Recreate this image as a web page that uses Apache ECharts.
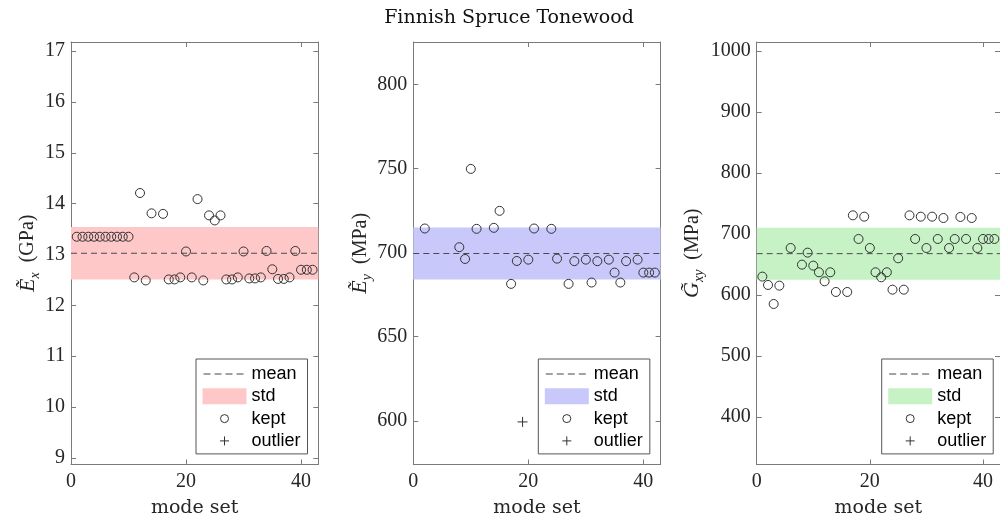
<!DOCTYPE html>
<html>
<head>
<meta charset="utf-8">
<script src="https://cdn.jsdelivr.net/npm/echarts@6/dist/echarts.min.js"></script>
<style>html,body{margin:0;padding:0;background:#fff;}#chart{width:1000px;height:532px;}</style>
</head>
<body>
<div id="chart"></div>
<script>
// ---------- data ----------
const chartTitle = 'Finnish Spruce Tonewood';
const xName = 'mode set';
const xTicks = [0, 20, 40];

// Panel 1: E_x (GPa)
const exKeptX = [1,2,3,4,5,6,7,8,9,10,11,12,13,14,16,17,18,19,20,21,22,23,24,25,26,27,28,29,30,31,32,33,34,35,36,37,38,39,40,41,42];
const exKeptY = [13.35,13.35,13.35,13.35,13.35,13.35,13.35,13.35,13.35,13.35,12.55,14.21,12.49,13.81,13.80,12.51,12.51,12.55,13.06,12.55,14.09,12.49,13.77,13.67,13.77,12.51,12.51,12.55,13.06,12.53,12.53,12.55,13.07,12.71,12.52,12.52,12.55,13.07,12.70,12.70,12.70];
const exOutX = [];
const exOutY = [];
const exMean = 13.025;
const exStd = 0.515;
const exTicks = [9,10,11,12,13,14,15,16,17];

// Panel 2: E_y (MPa)
const eyKeptX = [2,8,9,10,11,14,15,17,18,20,21,24,25,27,28,30,31,32,34,35,36,37,39,40,41,42];
const eyKeptY = [714.3,703.2,696.2,749.7,714.1,714.7,724.8,681.4,695.0,695.8,714.3,714.1,696.4,681.4,694.9,695.8,682.2,694.9,695.8,688.1,682.2,694.9,695.8,688.1,688.1,688.1];
const eyOutX = [19];
const eyOutY = [599.4];
const eyMean = 699.45;
const eyStd = 15.45;
const eyTicks = [600,650,700,750,800];

// Panel 3: G_xy (MPa)
const gKeptX = [1,2,3,4,6,8,9,10,11,12,13,14,16,17,18,19,20,21,22,23,24,25,26,27,28,29,30,31,32,33,34,35,36,37,38,39,40,41,42];
const gKeptY = [630.1,616.4,585.2,615.3,677,649.7,669.4,648.1,637.2,622.4,637.2,604.9,604.9,730.6,691.8,728.4,677,637.2,629,637.2,608.7,660.1,608.7,730.6,691.8,728.4,677,728.4,691.8,726.2,677,691.8,727.9,691.8,726.2,677,691.8,691.8,691.8];
const gOutX = [];
const gOutY = [];
const gMean = 667.75;
const gStd = 42.65;
const gTicks = [400,500,600,700,800,900,1000];

const legendNames = ['mean', 'std', 'kept', 'outlier'];

// ---------- layout / style ----------
const panels = [
  { keptX: exKeptX, keptY: exKeptY, outX: exOutX, outY: exOutY, mean: exMean, std: exStd, ticks: exTicks,
    yMin: 8.87, yMax: 17.18, left: 71, band: '#ffc8c8',
    yLabel: '{e|\u1EBC}{s|x}{u|  (GPa)}', nameGap: 29 },
  { keptX: eyKeptX, keptY: eyKeptY, outX: eyOutX, outY: eyOutY, mean: eyMean, std: eyStd, ticks: eyTicks,
    yMin: 574.1, yMax: 825.1, left: 413.3, band: '#c8c8fa',
    yLabel: '{e|\u1EBC}{s|y}{u|  (MPa)}', nameGap: 39 },
  { keptX: gKeptX, keptY: gKeptY, outX: gOutX, outY: gOutY, mean: gMean, std: gStd, ticks: gTicks,
    yMin: 322, yMax: 1014.8, left: 756.7, band: '#c6f2c6',
    yLabel: '{e|G\u0303}{s|xy}{u|  (MPa)}', nameGap: 50 }
];
const GRID_TOP = 42, GRID_H = 422.5, GRID_W = 247.3, XMAX = 43;
const axisColor = '#7a7a7a';
const textColor = '#262626';
const serif = '"Liberation Serif", "DejaVu Serif", serif';
const serif2 = '"DejaVu Serif", "Liberation Serif", serif';

const grid = [], xAxis = [], yAxis = [], series = [], legend = [];

panels.forEach((p, i) => {
  grid.push({ left: p.left, top: GRID_TOP, width: GRID_W, height: GRID_H, show: false, containLabel: false });
  const tickCommon = { show: true, inside: true, length: 5, lineStyle: { color: axisColor, width: 1 } };
  xAxis.push({
    type: 'value', gridIndex: i, position: 'bottom', min: 0, max: XMAX,
    axisLine: { show: true, onZero: false, lineStyle: { color: axisColor, width: 1 } },
    axisTick: Object.assign({ customValues: xTicks }, tickCommon),
    axisLabel: { show: true, customValues: xTicks, margin: 7, color: textColor, fontFamily: serif, fontSize: 20,
      formatter: v => String(v) },
    splitLine: { show: false },
    name: xName, nameLocation: 'middle', nameGap: 34, nameMoveOverlap: false,
    nameTextStyle: { color: textColor, fontFamily: serif2, fontSize: 19 }
  });
  xAxis.push({
    type: 'value', gridIndex: i, position: 'top', min: 0, max: XMAX,
    axisLine: { show: true, onZero: false, lineStyle: { color: axisColor, width: 1 } },
    axisTick: Object.assign({ customValues: xTicks }, tickCommon),
    axisLabel: { show: false }, splitLine: { show: false }
  });
  yAxis.push({
    type: 'value', gridIndex: i, position: 'left', min: p.yMin, max: p.yMax,
    axisLine: { show: true, onZero: false, lineStyle: { color: axisColor, width: 1 } },
    axisTick: Object.assign({ customValues: p.ticks }, tickCommon),
    axisLabel: { show: true, customValues: p.ticks, margin: 6, color: textColor, fontFamily: serif, fontSize: 20,
      formatter: v => String(v) },
    splitLine: { show: false },
    name: p.yLabel, nameLocation: 'middle', nameRotate: 90, nameGap: p.nameGap, nameMoveOverlap: false,
    nameTextStyle: {
      color: textColor, fontFamily: serif, fontSize: 20, align: 'center', verticalAlign: 'bottom',
      rich: {
        e: { fontFamily: serif, fontStyle: 'italic', fontSize: 22, color: textColor, lineHeight: 28, verticalAlign: 'middle' },
        s: { fontFamily: serif, fontStyle: 'italic', fontSize: 14, color: textColor, lineHeight: 28, verticalAlign: 'bottom' },
        u: { fontFamily: serif, fontSize: 20, color: textColor, lineHeight: 28, verticalAlign: 'middle' }
      }
    }
  });
  yAxis.push({
    type: 'value', gridIndex: i, position: 'right', min: p.yMin, max: p.yMax,
    axisLine: { show: true, onZero: false, lineStyle: { color: axisColor, width: 1 } },
    axisTick: Object.assign({ customValues: p.ticks }, tickCommon),
    axisLabel: { show: false }, splitLine: { show: false }
  });

  const xi = i * 2, yi = i * 2;
  series.push({
    name: 'std', type: 'line', xAxisIndex: xi, yAxisIndex: yi, data: [], silent: true,
    markArea: { silent: true, itemStyle: { color: p.band, opacity: 1 },
      data: [[{ yAxis: p.mean - p.std }, { yAxis: p.mean + p.std }]] },
    z: 1
  });
  series.push({
    name: 'mean', type: 'line', xAxisIndex: xi, yAxisIndex: yi, silent: true,
    data: [[0, p.mean], [XMAX, p.mean]], symbol: 'none',
    lineStyle: { color: '#4a4a4a', width: 1, type: [6, 4] }, z: 2
  });
  series.push({
    name: 'kept', type: 'scatter', xAxisIndex: xi, yAxisIndex: yi, silent: true,
    data: p.keptX.map((x, k) => [x, p.keptY[k]]),
    symbol: 'circle', symbolSize: 9,
    itemStyle: { color: 'transparent', borderColor: '#333', borderWidth: 1, opacity: 1 }, z: 3
  });
  series.push({
    name: 'outlier', type: 'scatter', xAxisIndex: xi, yAxisIndex: yi, silent: true,
    data: p.outX.map((x, k) => [x, p.outY[k]]),
    symbol: 'path://M5,0L5,10M0,5L10,5', symbolSize: 10,
    itemStyle: { color: 'transparent', borderColor: '#333', borderWidth: 1, opacity: 1 }, z: 3
  });

  legend.push({
    show: true, orient: 'vertical', left: p.left + 125, top: 359,
    itemWidth: 44, itemHeight: 16, itemGap: 4.3, padding: [6, 7, 4, 6],
    borderColor: '#555', borderWidth: 1, backgroundColor: '#fff',
    selectedMode: false, inactiveColor: '#000',
    textStyle: { color: '#000', fontFamily: '"Liberation Sans", Arial, sans-serif', fontSize: 18 },
    itemStyle: { borderWidth: 0 },
    data: [
      { name: legendNames[0], icon: 'path://M0,0M44,16M1,8L8,8M12,8L19,8M23,8L30,8M34,8L41,8',
        itemStyle: { color: 'transparent', borderColor: '#444', borderWidth: 1 } },
      { name: legendNames[1], icon: 'rect', itemStyle: { color: p.band, borderWidth: 0 } },
      { name: legendNames[2], icon: 'path://M0,0M44,16M26,8A4,4,0,1,1,18,8A4,4,0,1,1,26,8Z',
        itemStyle: { color: 'transparent', borderColor: '#333', borderWidth: 1 } },
      { name: legendNames[3], icon: 'path://M0,0M44,16M22,3.5L22,12.5M17.5,8L26.5,8',
        itemStyle: { color: 'transparent', borderColor: '#333', borderWidth: 1 } }
    ]
  });
});

const option = {
  animation: false,
  backgroundColor: '#fff',
  title: {
    text: chartTitle, left: 509, top: 9, textAlign: 'center', padding: 0,
    textStyle: { color: '#111', fontFamily: serif2, fontSize: 19, fontWeight: 'normal' }
  },
  grid, xAxis, yAxis, series, legend
};

const chart = echarts.init(document.getElementById('chart'), null, { renderer: 'canvas' });
chart.setOption(option);
</script>
</body>
</html>
